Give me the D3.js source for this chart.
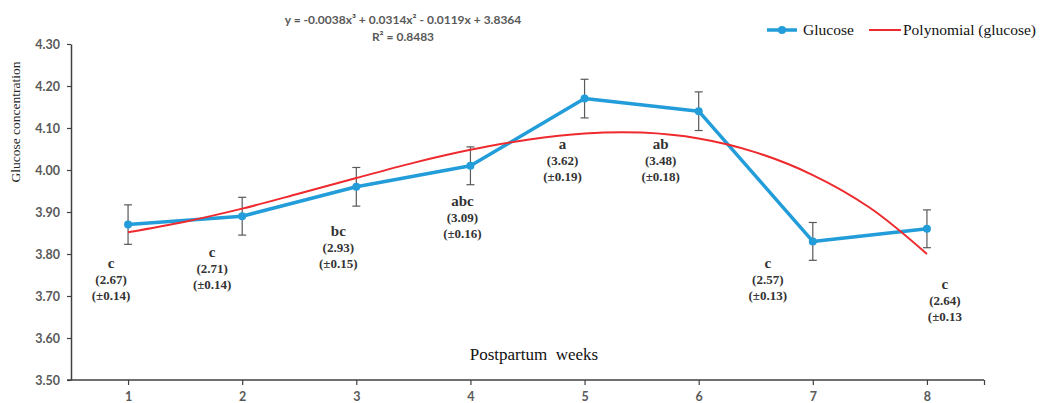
<!DOCTYPE html>
<html>
<head>
<meta charset="utf-8">
<script src="https://cdn.jsdelivr.net/npm/d3@7"></script>
<style>
  body { margin: 0; background: #fff; }
  text.tick-label, .tick-label text { font-family: Lato, "Open Sans", sans-serif; font-weight: 700; font-size: 12.5px; fill: #595959; }
</style>
</head>
<body>
<div id="graphic-wrapper"></div>
<script>
// data
const weeks = [1, 2, 3, 4, 5, 6, 7, 8]
const glucose = [3.87, 3.89, 3.96, 4.01, 4.17, 4.14, 3.83, 3.86]
const glucoseErr = [0.047, 0.045, 0.046, 0.045, 0.046, 0.046, 0.045, 0.045]
const trendWeeks = [1, 1.5, 2, 2.5, 3, 3.5, 4, 4.5, 5, 5.5, 6, 6.5, 7, 7.5, 8]
const trendValues = [3.852, 3.877, 3.908, 3.944, 3.981, 4.017, 4.048, 4.072, 4.087, 4.089, 4.075, 4.042, 3.988, 3.910, 3.800]
const letters = ["c", "c", "bc", "abc", "a", "ab", "c", "c"]
const means = ["(2.67)", "(2.71)", "(2.93)", "(3.09)", "(3.62)", "(3.48)", "(2.57)", "(2.64)"]
const sds = ["(±0.14)", "(±0.14)", "(±0.15)", "(±0.16)", "(±0.19)", "(±0.18)", "(±0.13)", "(±0.13"]
const yTicks = [3.5, 3.6, 3.7, 3.8, 3.9, 4.0, 4.1, 4.2, 4.3]

// label placement (pixel offsets from the week tick, top line y)
const labelDx = [-17, -30, -18, -8, -22, -38, -45, 18]
const labelTop = [263, 252, 231, 201, 144, 144, 263, 284]

const BLUE = "#229dd9"
const RED = "#ee2a2e"
const GREY = "#595959"
const SERIF = "'Liberation Serif', 'Times New Roman', serif"

const DIMENSIONS = { width: 1043, height: 403, left: 71, right: 984, top: 44, bottom: 380 }

const svg = d3.select("#graphic-wrapper")
  .append("svg")
    .attr("width", DIMENSIONS.width)
    .attr("height", DIMENSIONS.height)

const xScale = d3.scaleLinear().domain([0.5, 8.5]).range([DIMENSIONS.left, DIMENSIONS.right])
const yScale = d3.scaleLinear().domain([3.5, 4.3]).range([DIMENSIONS.bottom, DIMENSIONS.top])

// axes
const yAxis = svg.append("g")
  .attr("transform", `translate(${DIMENSIONS.left},0)`)
  .call(d3.axisLeft(yScale).tickValues(yTicks).tickFormat(d3.format(".2f")).tickSize(4).tickSizeOuter(0).tickPadding(7))
yAxis.select(".domain").attr("stroke", "#404040").attr("stroke-width", 1.5)
yAxis.selectAll(".tick line").attr("stroke", "#404040").attr("stroke-width", 1.2)
yAxis.selectAll(".tick text").attr("class", "tick-label")

const xAxis = svg.append("g")
  .attr("transform", `translate(0,${DIMENSIONS.bottom})`)
  .call(d3.axisBottom(xScale).tickValues(weeks.concat([8.5])).tickFormat(d => d === 8.5 ? "" : d).tickSize(5).tickSizeOuter(0).tickPadding(7))
xAxis.select(".domain").attr("stroke", "#404040").attr("stroke-width", 1.5)
  .attr("d", `M${DIMENSIONS.left - 4},0H${DIMENSIONS.right}`)
xAxis.selectAll(".tick line").attr("stroke", "#404040").attr("stroke-width", 1.2)
xAxis.selectAll(".tick text").attr("class", "tick-label")

// axis titles
svg.append("text")
  .attr("transform", `translate(20,122) rotate(-90)`)
  .attr("text-anchor", "middle")
  .style("font-family", SERIF)
  .style("font-size", "13.5px")
  .attr("fill", "#262626")
  .text("Glucose concentration")

svg.append("text")
  .attr("x", 534)
  .attr("y", 360)
  .attr("text-anchor", "middle")
  .style("font-family", SERIF)
  .style("font-size", "17px")
  .style("white-space", "pre")
  .attr("fill", "#111")
  .text("Postpartum  weeks")

// trendline equation
svg.append("text").attr("class", "tick-label").attr("x", 403).attr("y", 24).attr("text-anchor", "middle")
  .style("font-size", "12px")
  .text("y = -0.0038x³ + 0.0314x² - 0.0119x + 3.8364")
svg.append("text").attr("class", "tick-label").attr("x", 403).attr("y", 41).attr("text-anchor", "middle")
  .style("font-size", "12px")
  .text("R² = 0.8483")

// significance labels
const labels = svg.append("g")
weeks.forEach((w, i) => {
  const cx = xScale(w) + labelDx[i]
  const rows = [[letters[i], 5, "15px"], [means[i], 21, "13px"], [sds[i], 37, "13px"]]
  rows.forEach(([txt, dy, size]) => {
    labels.append("text")
      .attr("x", cx)
      .attr("y", labelTop[i] + dy)
      .attr("text-anchor", "middle")
      .style("font-family", SERIF)
      .style("font-weight", 700)
      .style("font-size", size)
      .attr("fill", "#333")
      .text(txt)
  })
})

// glucose series
const pts = weeks.map((w, i) => ({ x: w, y: glucose[i], e: glucoseErr[i] }))

const lineGenerator = d3.line()
  .x(d => xScale(d.x))
  .y(d => yScale(d.y))

svg.append("path")
  .datum(pts)
  .attr("d", lineGenerator)
  .attr("fill", "none")
  .attr("stroke", BLUE)
  .attr("stroke-width", 3.5)
  .attr("stroke-linejoin", "round")

// error bars
const err = svg.append("g").attr("stroke", GREY).attr("stroke-width", 1.2)
pts.forEach(d => {
  const cx = xScale(d.x)
  const y0 = yScale(d.y - d.e)
  const y1 = yScale(d.y + d.e)
  err.append("line").attr("x1", cx).attr("x2", cx).attr("y1", y0).attr("y2", y1)
  err.append("line").attr("x1", cx - 4).attr("x2", cx + 4).attr("y1", y0).attr("y2", y0)
  err.append("line").attr("x1", cx - 4).attr("x2", cx + 4).attr("y1", y1).attr("y2", y1)
})

svg.append("g").selectAll("circle")
  .data(pts)
  .join("circle")
    .attr("cx", d => xScale(d.x))
    .attr("cy", d => yScale(d.y))
    .attr("r", 4)
    .attr("fill", BLUE)

// polynomial trendline
const trend = trendWeeks.map((w, i) => ({ x: w, y: trendValues[i] }))
svg.append("path")
  .datum(trend)
  .attr("d", lineGenerator.curve(d3.curveCatmullRom))
  .attr("fill", "none")
  .attr("stroke", RED)
  .attr("stroke-width", 2)

// legend
const legend = svg.append("g")
legend.append("line").attr("x1", 767).attr("x2", 797).attr("y1", 30).attr("y2", 30)
  .attr("stroke", BLUE).attr("stroke-width", 3.5)
legend.append("circle").attr("cx", 782).attr("cy", 30).attr("r", 4).attr("fill", BLUE)
legend.append("line").attr("x1", 869).attr("x2", 901).attr("y1", 30).attr("y2", 30)
  .attr("stroke", RED).attr("stroke-width", 2)
legend.selectAll("text.leg")
  .data([["Glucose", 803], ["Polynomial (glucose)", 903]])
  .join("text")
    .attr("class", "leg")
    .attr("x", d => d[1])
    .attr("y", 35)
    .style("font-family", SERIF)
    .style("font-size", "15.5px")
    .attr("fill", "#111")
    .text(d => d[0])
</script>
</body>
</html>
